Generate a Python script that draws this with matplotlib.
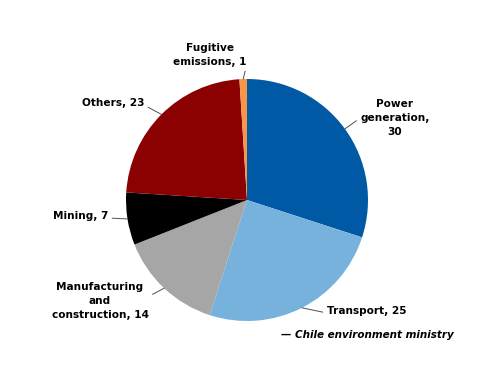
import numpy as np
import matplotlib
matplotlib.use("Agg")
import matplotlib.pyplot as plt

categories = ["Power\ngeneration,\n30", "Transport, 25", "Manufacturing\nand\nconstruction, 14",
              "Mining, 7", "Others, 23", "Fugitive\nemissions, 1"]
values = [30, 25, 14, 7, 23, 1]
colors = ["#0059A4", "#77B2DD", "#A6A6A6", "#000000", "#8B0000", "#F79646"]
source = "\u2014 Chile environment ministry"

W, H = 500, 386
fig = plt.figure(figsize=(W / 100, H / 100), dpi=100)
cx, cy, R = 247, 200, 121
ax = fig.add_axes([(cx - R) / W, (H - cy - R) / H, 2 * R / W, 2 * R / H])
wedges, _ = ax.pie(values, colors=colors, startangle=90, counterclock=False,
                   radius=1, center=(0, 0), wedgeprops=dict(linewidth=0))
ax.set_xlim(-1, 1)
ax.set_ylim(-1, 1)
ax.set_aspect("equal")
ax.axis("off")

def px(x, y):
    return ((x - cx) / R, (cy - y) / R)

# label layout: (text pixel position, ha, relpos)
layout = [
    ((395, 118), "center", (0.0, 0.5)),
    ((327, 311), "left", (0.0, 0.3)),
    ((100, 301), "center", (1.0, 0.62)),
    ((108, 216), "right", (1.0, 0.3)),
    ((144, 103), "right", (1.0, 0.3)),
    ((210, 55), "center", (1.0, 0.1)),
]
font = dict(family="DejaVu Sans", fontsize=7.6, fontweight="bold", color="#000000")
for w, lab, (pos, ha, rel) in zip(wedges, categories, layout):
    ang = np.deg2rad((w.theta1 + w.theta2) / 2)
    xy = (np.cos(ang), np.sin(ang))
    ax.annotate(lab, xy=xy, xytext=px(*pos), ha=ha, va="center", multialignment="center",
                linespacing=1.5,
                arrowprops=dict(arrowstyle="-", color="#505050", lw=0.7, relpos=rel,
                                shrinkA=1, shrinkB=0),
                annotation_clip=False, **font)

fig.text(281 / W, 1 - 335 / H, source, ha="left", va="center", fontsize=7.5,
         fontweight="bold", style="italic", family="DejaVu Sans")
fig.savefig("out.png", dpi=100)
